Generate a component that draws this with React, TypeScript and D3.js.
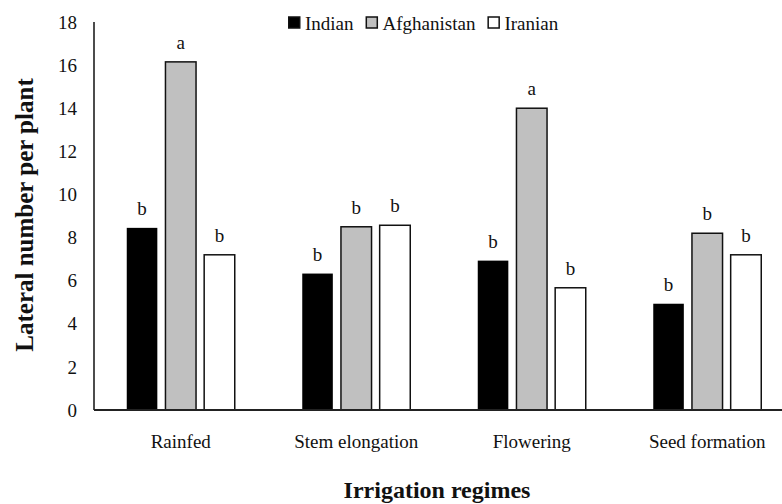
import { useEffect, useRef } from "react";
import * as d3 from "d3";

const categories = ["Rainfed", "Stem elongation", "Flowering", "Seed formation"];
const seriesNames = ["Indian", "Afghanistan", "Iranian"];
const indian = [8.45, 6.33, 6.93, 4.93];
const afghanistan = [16.15, 8.5, 14.0, 8.2];
const iranian = [7.2, 8.57, 5.67, 7.2];
const indianLetters = ["b", "b", "b", "b"];
const afghanistanLetters = ["a", "b", "a", "b"];
const iranianLetters = ["b", "b", "b", "b"];
const yTicks = [0, 2, 4, 6, 8, 10, 12, 14, 16, 18];

const W = 782;
const H = 504;
const FONT = "Liberation Serif";

export default function App() {
  const ref = useRef<SVGSVGElement>(null);

  useEffect(() => {
    const svg = d3.select(ref.current);
    svg.selectAll("*").remove();

    const values = [indian, afghanistan, iranian];
    const letters = [indianLetters, afghanistanLetters, iranianLetters];
    const fills = ["#000000", "#c0c0c0", "#ffffff"];

    const y = d3.scaleLinear().domain([0, 18]).range([410, 22]);
    const x0 = d3.scaleBand().domain(categories).range([93, 795]);
    const x1 = d3
      .scaleBand()
      .domain(seriesNames)
      .range([0, 108])
      .paddingInner(0.21);
    const groupOffset = (x0.bandwidth() - 108) / 2;

    // bars + significance letters
    const groups = svg
      .append("g")
      .selectAll("g")
      .data(categories)
      .join("g")
      .attr("transform", (c) => `translate(${(x0(c) ?? 0) + groupOffset},0)`);

    seriesNames.forEach((s, si) => {
      groups
        .append("rect")
        .attr("x", x1(s) ?? 0)
        .attr("width", x1.bandwidth())
        .attr("y", (_, ci) => y(values[si][ci]))
        .attr("height", (_, ci) => y(0) - y(values[si][ci]))
        .attr("fill", fills[si])
        .attr("stroke", si === 0 ? "none" : "#111")
        .attr("stroke-width", 1.5);

      groups
        .append("text")
        .attr("x", (x1(s) ?? 0) + x1.bandwidth() / 2)
        .attr("y", (_, ci) => y(values[si][ci]) - 13)
        .attr("text-anchor", "middle")
        .attr("font-family", FONT)
        .attr("font-size", 19)
        .attr("fill", "#111")
        .text((_, ci) => letters[si][ci]);
    });

    // axes
    svg
      .append("line")
      .attr("x1", 94)
      .attr("x2", 94)
      .attr("y1", y(18))
      .attr("y2", y(0))
      .attr("stroke", "#111")
      .attr("stroke-width", 1.5);
    svg
      .append("line")
      .attr("x1", 94)
      .attr("x2", 782)
      .attr("y1", y(0))
      .attr("y2", y(0))
      .attr("stroke", "#222")
      .attr("stroke-width", 2);

    svg
      .append("g")
      .selectAll("text")
      .data(yTicks)
      .join("text")
      .attr("x", 77)
      .attr("y", (d) => y(d))
      .attr("dy", "0.35em")
      .attr("text-anchor", "end")
      .attr("font-family", FONT)
      .attr("font-size", 19)
      .attr("fill", "#111")
      .text((d) => d);

    svg
      .append("g")
      .selectAll("text")
      .data(categories)
      .join("text")
      .attr("x", (c) => (x0(c) ?? 0) + x0.bandwidth() / 2)
      .attr("y", 448)
      .attr("text-anchor", "middle")
      .attr("font-family", FONT)
      .attr("font-size", 19)
      .attr("fill", "#111")
      .text((c) => c);

    // axis titles
    svg
      .append("text")
      .attr("x", 437)
      .attr("y", 498)
      .attr("text-anchor", "middle")
      .attr("font-family", FONT)
      .attr("font-size", 24)
      .attr("font-weight", "bold")
      .attr("fill", "#111")
      .text("Irrigation regimes");

    svg
      .append("text")
      .attr("transform", "translate(33,215) rotate(-90)")
      .attr("text-anchor", "middle")
      .attr("font-family", FONT)
      .attr("font-size", 25)
      .attr("font-weight", "bold")
      .attr("fill", "#111")
      .text("Lateral number per plant");

    // legend
    const legend = svg.append("g").attr("transform", "translate(288,0)");
    let lx = 0;
    seriesNames.forEach((s, si) => {
      legend
        .append("rect")
        .attr("x", lx + 0.75)
        .attr("y", 17)
        .attr("width", 11)
        .attr("height", 11)
        .attr("fill", fills[si])
        .attr("stroke", "#111")
        .attr("stroke-width", 1.5);
      const t = legend
        .append("text")
        .attr("x", lx + 17)
        .attr("y", 30)
        .attr("font-family", FONT)
        .attr("font-size", 19)
        .attr("fill", "#111")
        .text(s);
      const len = (t.node() as SVGTextElement).getComputedTextLength();
      lx += 17 + len + 12;
    });
  }, []);

  return (
    <svg
      ref={ref}
      width={W}
      height={H}
      style={{ position: "fixed", left: 0, top: 0, background: "#fff" }}
    />
  );
}
